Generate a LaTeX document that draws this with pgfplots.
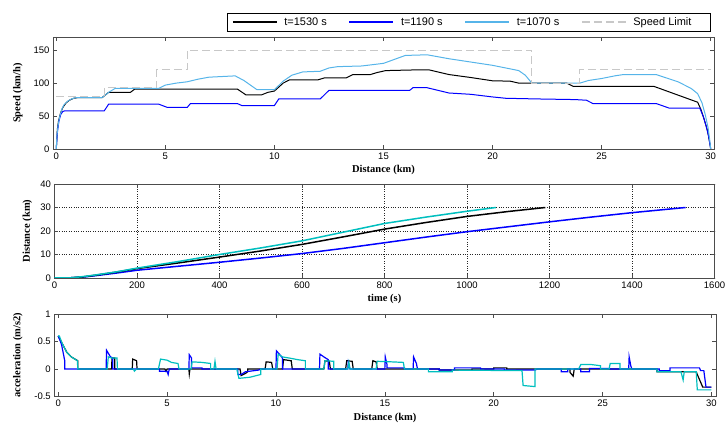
\documentclass[border=0pt]{standalone}
\usepackage{fontspec}
\setmainfont{Liberation Sans}
\newfontfamily\labfont{Liberation Serif}
\usepackage{pgfplots}
\pgfplotsset{compat=1.18}
\definecolor{LBlue}{HTML}{56B4E9}
\definecolor{Teal}{HTML}{00BFBF}
\definecolor{Limit}{HTML}{C8C8C8}

\pgfplotsset{
  matlab/.style={
    scale only axis,
    anchor=south west,
    tick align=inside,
    major tick length=4pt,
    axis line style={black!70,line width=0.6pt},
    tick style={black!70,line width=0.5pt},
    tick label style={font=\fontsize{9.5}{11}\selectfont},
    /pgf/number format/assume math mode=true,
    /pgf/number format/1000 sep={},
    label style={font=\labfont\bfseries\fontsize{10.5}{12}\selectfont},
  },
}

\begin{document}
\begin{tikzpicture}[x=1pt,y=1pt]
\path[use as bounding box] (0,0) rectangle (726,423);

% speed profile
\begin{axis}[matlab,
  at={(53pt,274pt)}, width=661pt, height=112pt,
  xmin=-0.15, xmax=30.15, ymin=0, ymax=170,
  xtick={0,5,...,30}, ytick={0,50,100,150},
  xlabel={Distance (km)}, ylabel={Speed (km/h)},
  xlabel style={at={(axis description cs:0.5,-0.19)},anchor=center},
  ylabel style={at={(axis description cs:-0.053,0.5)},anchor=center},
  legend columns=4,
  legend style={at={(0.995,1.054)},anchor=south east,draw=black,
    fill=white,font=\fontsize{11}{13}\selectfont,inner xsep=5pt,inner ysep=2pt},
  legend image code/.code={\draw[#1,line width=1.1pt] (0pt,0pt) -- (44pt,0pt);},
  /tikz/every odd column/.append style={column sep=5pt},
  /tikz/every even column/.append style={column sep=20pt},
]
\addplot[black,line width=1pt] coordinates {
(0,0) (0.05,30) (0.1,42) (0.2,55) (0.3,63) (0.45,70) (0.6,74) (0.8,77) (1.0,78)
(2.1,78) (2.4,86) (3.4,86) (3.6,91) (4.6,91) (8.3,91) (8.7,82) (9.4,82) (9.7,86)
(10.0,88) (10.4,100) (10.7,105) (12.0,105) (12.3,108) (13.3,108) (13.6,113) (14.4,113)
(14.7,116) (15.1,119) (16.4,120) (17.1,120) (18.0,113) (19.0,108.5) (20.0,103.5)
(20.8,103) (21.2,100) (23.4,100) (23.7,95) (27.4,95) (28.4,83) (29.4,71) (29.55,60)
(29.7,45) (29.85,28) (29.95,10) (30,0)};
\addlegendentry{t=1530 s}
\addplot[blue,line width=1pt] coordinates {
(0,0) (0.05,25) (0.12,42) (0.2,52) (0.3,57) (0.4,58) (2.2,58) (2.4,68) (4.7,68)
(5.1,63) (6.0,63) (6.15,69) (8.3,69) (8.5,66) (10.0,66) (10.2,76) (12.1,76) (12.5,89)
(16.2,89) (16.35,93) (17.0,93) (18.0,85) (19.0,83) (20.0,79) (20.6,77) (22.0,76)
(23.8,75) (24.3,74) (24.6,69) (27.5,69) (28.1,62) (29.5,62) (29.65,50) (29.78,36)
(29.9,20) (29.97,6) (30,0)};
\addlegendentry{t=1190 s}
\addplot[LBlue,line width=1pt] coordinates {
(0,0) (0.03,20) (0.08,35) (0.15,48) (0.25,60) (0.35,67) (0.5,72) (0.7,76) (0.9,78)
(2.1,78) (2.4,86) (2.7,92) (4.7,92) (5.0,97) (5.5,100) (6.0,102) (6.5,106) (7.0,109)
(8.2,111) (8.6,104) (9.2,90) (10.0,90) (10.4,103) (10.8,112) (11.3,117) (12.1,118)
(12.5,123) (12.9,125) (14.0,126) (15.0,130) (16.0,142) (17.0,143) (18.0,137)
(20.0,127) (21.2,119) (21.5,112) (21.8,100) (24.0,100) (24.4,104) (25.0,107)
(25.6,111) (26.0,113) (27.5,113) (28.5,102) (29.1,92) (29.4,84) (29.6,70) (29.75,52)
(29.88,32) (29.96,12) (30,0)};
\addlegendentry{t=1070 s}
\addplot[Limit,line width=1pt,dash pattern=on 8pt off 4pt] coordinates {
(0,80) (2.2,80) (2.2,93) (4.6,93) (4.6,120) (6.0,120) (6.0,150) (21.8,150)
(21.8,100) (24.0,100) (24.0,120) (30,120)};
\addlegendentry{Speed Limit\hspace*{12pt}}
\end{axis}

% distance vs time
\begin{axis}[matlab,
  at={(54.5pt,145pt)}, width=660pt, height=94pt,
  xmin=0, xmax=1600, ymin=0, ymax=40,
  xtick={0,200,...,1600}, ytick={0,10,...,40},
  grid=major, grid style={dotted,black!85,line width=0.6pt},
  xlabel={time (s)}, ylabel={Distance (km)},
  xlabel style={at={(axis description cs:0.5,-0.223)},anchor=center},
  ylabel style={at={(axis description cs:-0.041,0.5)},anchor=center},
]
\addplot[blue,line width=1.5pt] coordinates {
(0,0) (40,0.1) (70,0.4) (100,1.0) (150,2.1) (200,3.3) (300,5.0) (400,6.7) (500,8.5)
(600,10.4) (700,12.6) (800,15.0) (900,17.4) (1000,19.7) (1100,21.8) (1200,23.9)
(1300,25.9) (1400,27.8) (1530,30.0)};
\addplot[black,line width=1.5pt] coordinates {
(0,0) (40,0.1) (70,0.5) (100,1.2) (150,2.5) (200,4.0) (300,6.4) (400,8.9) (500,11.5)
(600,14.3) (700,17.5) (800,20.8) (900,23.6) (1000,26.2) (1100,28.3) (1190,30.0)};
\addplot[Teal,line width=1.5pt] coordinates {
(0,0) (40,0.1) (70,0.6) (100,1.3) (150,2.6) (200,4.2) (300,7.0) (400,10.0) (500,12.8)
(600,15.8) (700,19.5) (800,23.2) (900,25.9) (1000,28.4) (1070,30.0)};
\end{axis}

% acceleration
\begin{axis}[matlab,
  at={(54.3pt,26.5pt)}, width=661.5pt, height=82.5pt,
  xmin=-0.18, xmax=30.2, ymin=-0.5, ymax=1,
  xtick={0,5,...,30}, ytick={-0.5,0,0.5,1},
  xlabel={Distance (km)}, ylabel={acceleration (m/s2)},
  xlabel style={at={(axis description cs:0.5,-0.26)},anchor=center},
  ylabel style={at={(axis description cs:-0.055,0.5)},anchor=center},
]
\addplot[black,line width=1.2pt] coordinates {
(0,0.6) (0.2,0.45) (0.4,0.3) (0.6,0.22) (0.9,0.15) (0.9,0) (2.45,0) (2.47,0.2) (2.6,0.2)
(2.6,0) (3.4,0) (3.42,0.18) (3.6,0.15) (3.62,0) (4.9,0) (4.95,-0.04) (5.0,0) (6.0,0)
(6.02,-0.09) (6.05,0) (8.35,0) (8.4,-0.12) (8.6,-0.08) (8.7,-0.05) (8.7,0) (9.5,0)
(9.55,0.13) (9.8,0.12) (9.85,0) (10.3,0) (10.35,0.17) (10.7,0.15) (10.75,0) (12.2,0)
(12.25,0.15) (12.45,0.14) (12.5,0) (13.2,0) (13.25,0.15) (13.5,0.14) (13.55,0)
(14.4,0) (14.45,0.15) (14.6,0.13) (14.65,0) (17.5,0) (17.5,-0.02) (19,-0.02) (19,0)
(20,0) (20,0.02) (20.6,0.02) (20.6,0) (23.5,0) (23.5,-0.06) (23.65,-0.13) (23.7,0)
(27.5,0) (27.5,-0.05) (29.3,-0.05) (29.35,-0.1) (29.6,-0.33) (30,-0.33)};
\addplot[blue,line width=1.2pt] coordinates {
(0,0.6) (0.15,0.45) (0.3,0.15) (0.3,0) (2.2,0) (2.22,0.34) (2.4,0.22) (2.5,0.2) (2.5,0)
(4.65,0) (4.65,-0.04) (5.0,-0.04) (5.05,-0.1) (5.1,0) (6.0,0) (6.02,0.26) (6.12,0.2)
(6.12,0.02) (6.6,0.02) (6.6,0) (8.25,0) (8.25,-0.1) (8.4,-0.1) (8.6,-0.05) (9.2,-0.02)
(9.3,0) (10.0,0) (10.02,0.33) (10.2,0.25) (10.3,0.2) (10.3,0) (12.0,0) (12.02,0.27)
(12.2,0.22) (12.4,0.17) (12.4,0) (13.3,0) (13.32,0.12) (13.4,0) (15.0,0) (15.02,0.22)
(15.1,0.08) (15.1,0.02) (15.9,0.02) (15.9,0) (16.3,0) (16.32,0.22) (16.45,0.1)
(16.5,0) (17.5,0) (17.5,-0.02) (18.2,-0.02) (18.2,0.02) (19.4,0.02) (19.4,0)
(20.5,0) (20.5,-0.02) (21.9,-0.02) (22,0) (23.1,0) (23.1,-0.05) (23.4,-0.05) (23.4,0)
(24.0,0) (24.0,-0.05) (24.4,-0.05) (24.4,0.01) (25.3,0.01) (25.3,0) (26.2,0)
(26.22,0.22) (26.3,0.05) (26.35,0) (27.6,0) (27.6,-0.03) (28.1,-0.03) (28.1,0.02)
(29.45,0.02) (29.5,-0.03) (29.65,-0.03) (29.75,-0.33) (30,-0.33)};
\addplot[Teal,line width=1.2pt] coordinates {
(0,0.6) (0.05,0.6) (0.2,0.45) (0.4,0.3) (0.6,0.22) (0.88,0.15) (0.9,0) (2.25,0)
(2.3,0.22) (2.45,0.2) (2.7,0.2) (2.72,0) (3.45,0) (3.5,-0.04) (3.6,0) (4.6,0)
(4.7,0.18) (5.0,0.16) (5.2,0.12) (5.5,0.1) (5.55,0) (6.1,0) (6.15,0.13) (6.6,0.12)
(7.0,0.1) (7.0,0) (7.15,0) (7.2,0.14) (7.25,0) (8.2,0) (8.3,-0.17) (8.8,-0.15)
(9.3,-0.1) (9.3,0) (10.05,0) (10.1,0.27) (10.3,0.22) (10.6,0.2) (11.0,0.17)
(11.35,0.15) (11.35,0) (12.2,0) (12.25,0.15) (12.65,0.14) (12.65,0) (13.3,0)
(13.35,0.12) (13.4,0) (14.6,0) (14.65,0.14) (15.3,0.13) (15.85,0.12) (15.9,0)
(17.0,0) (17.0,-0.05) (18.1,-0.05) (18.1,-0.02) (21.3,-0.03) (21.35,-0.3)
(21.9,-0.32) (21.9,0) (23.9,0) (24.0,0.08) (24.5,0.08) (24.9,0.06) (24.9,0)
(25.3,0) (25.35,0.1) (25.8,0.1) (25.8,0) (27.5,0) (27.5,-0.05) (28.6,-0.05)
(28.7,-0.2) (28.75,-0.05) (29.3,-0.05) (29.35,-0.38) (30,-0.38)};
\end{axis}
\end{tikzpicture}
\end{document}
